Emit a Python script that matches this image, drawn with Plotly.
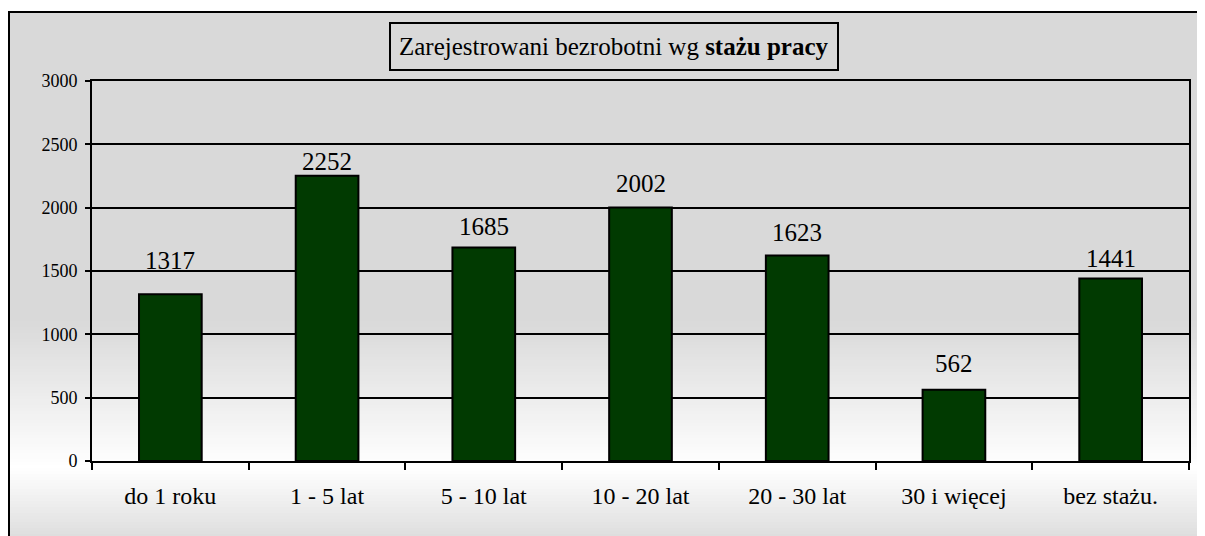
import plotly.graph_objects as go

categories = ["do 1 roku", "1 - 5 lat", "5 - 10 lat", "10 - 20 lat", "20 - 30 lat", "30 i więcej", "bez stażu."]
values = [1317, 2252, 1685, 2002, 1623, 562, 1441]
label_shift = [34, 14, 21, 24, 23, 26, 20]
y_ticks = [0, 500, 1000, 1500, 2000, 2500, 3000]

# page body has an 8px margin: figure origin sits at (8, 8) of the window
OFF = 8
W, H = 1205 - OFF, 536 - OFF
# plot area in window pixels
L_, R_, T_, B_ = 92, 1189, 81, 461
L, R, T, B = L_ - OFF, R_ - OFF, T_ - OFF, B_ - OFF
PW, PH = R - L, B - T

def px_x(x):
    return (x - OFF - L) / PW

def px_y(y):
    return (B - (y - OFF)) / PH

SERIF = "Liberation Serif"

fig = go.Figure()
fig.add_trace(go.Bar(
    x=categories, y=values, width=0.4,
    marker=dict(color="#013a01", line=dict(color="black", width=2)),
    hoverinfo="x+y",
))

annotations = []
for c, v, s in zip(categories, values, label_shift):
    annotations.append(dict(x=c, y=v, text=str(v), showarrow=False, yanchor="middle",
                            yshift=s, font=dict(family=SERIF, size=25, color="black")))

annotations.append(dict(
    x=px_x(614), y=px_y(47), xref="paper", yref="paper", showarrow=False,
    text="Zarejestrowani bezrobotni wg <b>stażu pracy</b>",
    font=dict(family=SERIF, size=25, color="black"), xanchor="center", yanchor="middle"))

shapes = []

def bg_color(y):
    g_top, g_bot = 217, 222
    if y < 320:
        v = g_top
    elif y < 468:
        t = (y - 320) / (468 - 320)
        v = g_top + (255 - g_top) * t
    else:
        t = (y - 468) / (536 - 468)
        v = 255 + (g_bot - 255) * t
    v = int(round(v))
    return f"rgb({v},{v},{v})"

step = 3
y = 12
while y < 540:
    shapes.append(dict(type="rect", xref="paper", yref="paper", layer="below",
                       x0=px_x(9), x1=px_x(1215), y0=px_y(y), y1=px_y(y + step + 0.5),
                       fillcolor=bg_color(y + step / 2), line=dict(width=0)))
    y += step

# outer border
shapes.append(dict(type="rect", xref="paper", yref="paper", layer="below",
                   x0=px_x(9), x1=px_x(1220), y0=px_y(12), y1=px_y(550),
                   fillcolor="rgba(0,0,0,0)", line=dict(color="black", width=2)))
# title box
shapes.append(dict(type="rect", xref="paper", yref="paper", layer="above",
                   x0=px_x(390), x1=px_x(838), y0=px_y(23), y1=px_y(70),
                   fillcolor="#d9d9d9", line=dict(color="black", width=2)))

fig.update_layout(
    width=W, height=H,
    margin=dict(l=L, r=W - R, t=T, b=H - B, pad=0),
    paper_bgcolor="white",
    plot_bgcolor="white",
    showlegend=False,
    shapes=shapes,
    annotations=annotations,
    xaxis=dict(
        type="category", tickson="boundaries", ticks="outside", ticklen=7, tickwidth=2,
        tickcolor="black", showline=True, linecolor="black", linewidth=2, mirror=True,
        showgrid=False, tickfont=dict(family=SERIF, size=24, color="black"),
        ticklabelstandoff=12,
    ),
    yaxis=dict(
        range=[0, 3000], tickvals=y_ticks, ticktext=[str(t) for t in y_ticks],
        ticks="outside", ticklen=5, tickwidth=2, tickcolor="black",
        showline=True, linecolor="black", linewidth=2, mirror=True,
        showgrid=True, gridcolor="black", gridwidth=2, zeroline=False,
        tickfont=dict(family=SERIF, size=18, color="black"),
        ticklabelstandoff=4,
    ),
)

fig.write_html("out.html")
